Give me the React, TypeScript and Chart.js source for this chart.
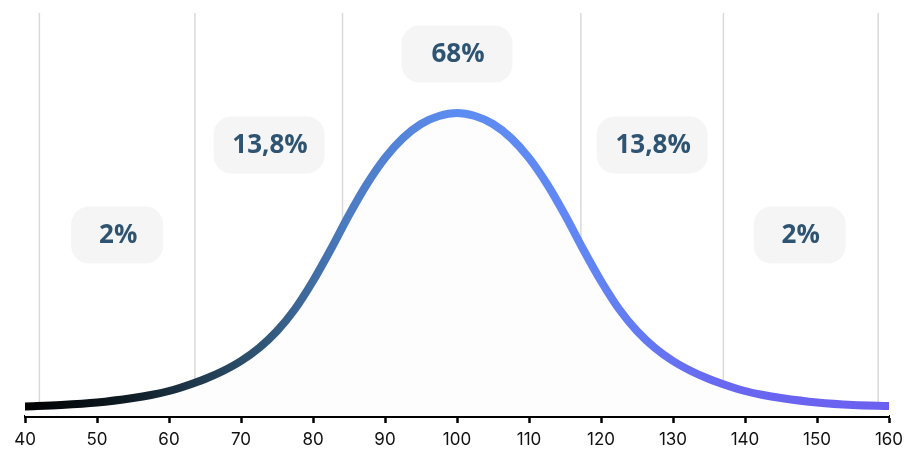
import React, { useEffect, useRef } from 'react';
import { Chart, registerables } from 'chart.js';

Chart.register(...registerables);

// Curve samples (x = score, y = height of the curve above the axis)
const X_VALUES = [40, 45, 50, 55, 57.5, 60, 62.5, 65, 67.5, 70, 72.5, 75, 77.5, 80, 82.5, 85, 87.5, 90, 92.5, 95, 97.5, 100,
  102.5, 105, 107.5, 110, 112.5, 115, 117.5, 120, 122.5, 125, 127.5, 130, 132.5, 135, 137.5, 140, 142.5, 145, 150, 155, 160];
const HEIGHTS = [9.5, 11, 13.5, 18, 21, 25, 30.5, 37, 45, 55, 68, 85, 107, 135, 167, 201, 232, 258, 278, 292, 300, 303,
  300, 292, 278, 258, 232, 201, 167, 135, 107, 85, 68, 55, 45, 37, 30.5, 25, 21, 18, 13.5, 11, 10];

const X_TICKS = [40, 50, 60, 70, 80, 90, 100, 110, 120, 130, 140, 150, 160];
const GRID_LINES = [42, 63.6, 84.1, 117.2, 137, 158.5];

const BAND_LABELS = ['2%', '13,8%', '68%', '13,8%', '2%'];
const BAND_X = [52.8, 73.9, 100, 127.1, 147.6];
const BAND_Y = [181, 271, 362, 271, 181];

const Y_MAX = 403;

// styles
const BOX_WIDTHS = [92, 111, 111, 111, 92];
const BOX_HEIGHT = 57;
const BOX_RADIUS = 18;
const GRADIENT_STOPS: [number, string][] = [
  [0, '#000000'],
  [0.12, '#0f1c25'],
  [0.27, '#2f5472'],
  [0.37, '#4b7bbf'],
  [0.5, '#5d8df2'],
  [0.65, '#6186f4'],
  [0.8, '#6868f0'],
  [1, '#6b5ff0'],
];

const overlayPlugin = {
  id: 'overlay',
  beforeDatasetsDraw(chart: any) {
    const { ctx, chartArea, scales } = chart;
    ctx.save();
    ctx.strokeStyle = '#d9d9d9';
    ctx.lineWidth = 1.5;
    GRID_LINES.forEach((v) => {
      const x = scales.x.getPixelForValue(v);
      ctx.beginPath();
      ctx.moveTo(x, chartArea.top);
      ctx.lineTo(x, chartArea.bottom);
      ctx.stroke();
    });
    ctx.restore();
  },
  afterDatasetsDraw(chart: any) {
    const { ctx, scales } = chart;
    ctx.save();
    BAND_LABELS.forEach((label, i) => {
      const cx = scales.x.getPixelForValue(BAND_X[i]);
      const cy = scales.y.getPixelForValue(BAND_Y[i]);
      const w = BOX_WIDTHS[i];
      ctx.fillStyle = '#f5f5f5';
      ctx.beginPath();
      ctx.roundRect(cx - w / 2, cy - BOX_HEIGHT / 2, w, BOX_HEIGHT, BOX_RADIUS);
      ctx.fill();
      ctx.fillStyle = '#2e5472';
      ctx.font = '700 26px "Open Sans"';
      ctx.textAlign = 'center';
      ctx.textBaseline = 'middle';
      ctx.fillText(label, cx + 1, cy + 1);
    });
    ctx.restore();
  },
};

export default function App() {
  const canvasRef = useRef<HTMLCanvasElement | null>(null);

  useEffect(() => {
    if (!canvasRef.current) return;
    const data = X_VALUES.map((x, i) => ({ x, y: HEIGHTS[i] }));
    const chart = new Chart(canvasRef.current, {
      type: 'line',
      data: {
        datasets: [
          {
            data,
            borderWidth: 8,
            borderCapStyle: 'round',
            borderJoinStyle: 'round',
            cubicInterpolationMode: 'monotone',
            pointRadius: 0,
            fill: 'origin',
            backgroundColor: '#fdfdfd',
            borderColor: (c: any) => {
              const ch = c.chart;
              if (!ch.chartArea) return '#5d8df2';
              const xs = ch.scales.x;
              const g = ch.ctx.createLinearGradient(xs.getPixelForValue(40), 0, xs.getPixelForValue(160), 0);
              GRADIENT_STOPS.forEach(([p, col]) => g.addColorStop(p, col));
              return g;
            },
          } as any,
        ],
      },
      options: {
        animation: false,
        responsive: true,
        maintainAspectRatio: false,
        layout: { padding: { left: 25, right: 25, top: 13, bottom: 0 } },
        plugins: { legend: { display: false }, tooltip: { enabled: false } },
        scales: {
          x: {
            type: 'linear',
            min: 40,
            max: 160,
            afterBuildTicks: (scale: any) => {
              scale.ticks = X_TICKS.map((v) => ({ value: v }));
            },
            afterFit: (scale: any) => {
              scale.height = 50;
            },
            border: { display: true, color: '#000', width: 3 },
            grid: {
              drawOnChartArea: false,
              drawTicks: true,
              tickLength: 7,
              tickWidth: 2.5,
              tickColor: '#000',
            },
            ticks: {
              autoSkip: false,
              maxRotation: 0,
              padding: 7,
              color: '#111',
              font: { family: 'Inter', size: 17, weight: 400 as any },
            },
          },
          y: {
            display: false,
            min: 0,
            max: Y_MAX,
          },
        },
      },
      plugins: [overlayPlugin],
    });
    return () => chart.destroy();
  }, []);

  return (
    <div style={{ position: 'fixed', left: 0, top: 0, width: 914, height: 466, background: '#fff' }}>
      <canvas ref={canvasRef} />
    </div>
  );
}
